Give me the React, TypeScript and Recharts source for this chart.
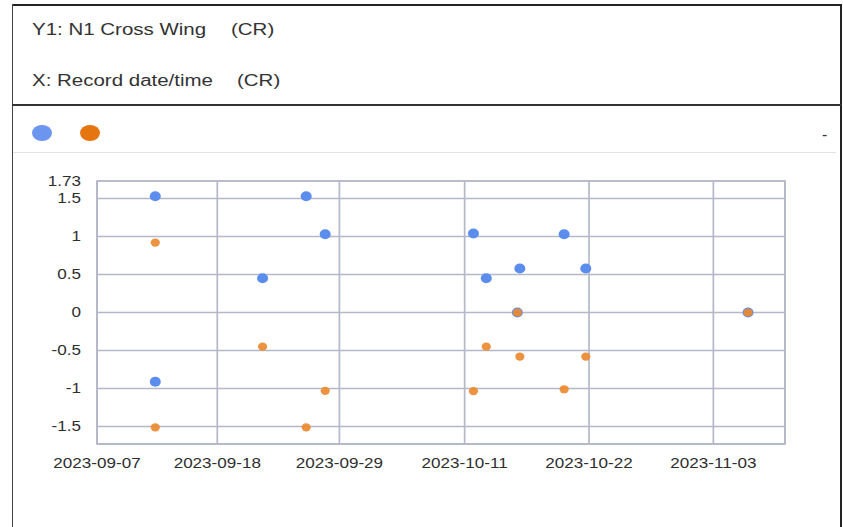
import React from "react";
import {CartesianGrid, ReferenceArea, Scatter, ScatterChart, XAxis, YAxis} from "recharts";

// header / axis captions
const yCaption = "Y1: N1 Cross Wing"
const xCaption = "X: Record date/time"
const unitCaption = "(CR)"

// x axis: domain ends and tick positions (labels show the date part)
const xDomain = ["2023-09-07T00:00", "2023-11-09T15:00"]
const xTickTimes = [
  "2023-09-07T00:00", "2023-09-18T03:00", "2023-09-29T10:00",
  "2023-10-11T00:00", "2023-10-22T12:00", "2023-11-03T00:00"
]

// y axis
const yDomain = [-1.73, 1.73]
const yTicks = [-1.5, -1, -0.5, 0, 0.5, 1, 1.5, 1.73]

// series
const seriesNames = ["Series A", "Series B"]
const seriesColors = ["#5b8def", "#ec8a2f"]
const legendColors = ["#6b95ef", "#e5760f"]

const blueTimes = [
  "2023-09-12T09:20", "2023-09-12T09:20", "2023-09-22T07:30", "2023-09-26T08:20",
  "2023-09-28T02:30", "2023-10-11T19:30", "2023-10-13T00:00", "2023-10-15T21:00",
  "2023-10-16T02:30", "2023-10-20T04:50", "2023-10-22T04:50", "2023-11-06T05:00"
]
const blueValues = [1.53, -0.91, 0.45, 1.53, 1.03, 1.04, 0.45, 0, 0.58, 1.03, 0.58, 0]

const orangeTimes = [
  "2023-09-12T09:20", "2023-09-12T09:20", "2023-09-22T07:30", "2023-09-26T08:20",
  "2023-09-28T02:30", "2023-10-11T19:30", "2023-10-13T00:00", "2023-10-15T21:00",
  "2023-10-16T02:30", "2023-10-20T04:50", "2023-10-22T04:50", "2023-11-06T05:00"
]
const orangeValues = [0.92, -1.51, -0.45, -1.51, -1.03, -1.035, -0.45, 0, -0.58, -1.01, -0.58, 0]

const FONT = '"Liberation Sans", Arial, sans-serif'
const GRID = '#b5b8c8'
const STRETCH = 1.22

function toTime(s: string) {
  return new Date(s).getTime()
}

function formatDate(t: number) {
  const d = new Date(t)
  const mm = String(d.getMonth() + 1).padStart(2, '0')
  const dd = String(d.getDate()).padStart(2, '0')
  return `${d.getFullYear()}-${mm}-${dd}`
}

const blueData = blueTimes.map((t, i) => ({t: toTime(t), v: blueValues[i]}))
const orangeData = orangeTimes.map((t, i) => ({t: toTime(t), v: orangeValues[i]}))

function XTick(props: any) {
  const {x, y, payload} = props
  return (
    <g transform={`translate(${x},${y}) scale(${STRETCH},1)`}>
      <text x={0} y={0} dy="0.71em" textAnchor="middle" fill="#2e2e2e" fontSize={14} fontFamily={FONT}>
        {formatDate(payload.value)}
      </text>
    </g>
  )
}

function YTick(props: any) {
  const {x, y, payload} = props
  return (
    <g transform={`translate(${x},${y}) scale(${STRETCH},1)`}>
      <text x={0} y={0} dy="0.355em" textAnchor="end" fill="#2e2e2e" fontSize={14} fontFamily={FONT}>
        {String(payload.value)}
      </text>
    </g>
  )
}

function Caption({text, left, top}: { text: string, left: number, top: number }) {
  return (
    <span style={{
      position: 'absolute', left, top, fontFamily: FONT, fontSize: 16, lineHeight: '18px',
      color: '#333', whiteSpace: 'nowrap', transform: `scaleX(1.28)`, transformOrigin: 'left top'
    }}>{text}</span>
  )
}

export default function App() {
  return (
    <div style={{
      position: 'absolute', left: 0, top: 0, width: 843, height: 527,
      background: '#fff', overflow: 'hidden'
    }}>
      {/* frame */}
      <div style={{position: 'absolute', left: 12, top: 4, width: 830, height: 1.5, background: '#222'}}/>
      <div style={{position: 'absolute', left: 12, top: 4, width: 1.3, height: 523, background: '#444'}}/>
      <div style={{position: 'absolute', left: 840, top: 4, width: 2, height: 523, background: '#222'}}/>
      <div style={{position: 'absolute', left: 12, top: 104, width: 830, height: 1.8, background: '#333'}}/>
      <div style={{position: 'absolute', left: 13, top: 152, width: 823, height: 1.3, background: '#e2e2e2'}}/>

      {/* captions */}
      <Caption text={yCaption} left={32} top={21}/>
      <Caption text={unitCaption} left={231} top={21}/>
      <Caption text={xCaption} left={32} top={72}/>
      <Caption text={unitCaption} left={237} top={72}/>

      {/* legend */}
      {seriesNames.map((name, i) => (
        <div key={name} title={name} style={{
          position: 'absolute', left: 32 + i * 48, top: 125, width: 20, height: 16,
          borderRadius: '50%', background: legendColors[i]
        }}/>
      ))}
      <span style={{
        position: 'absolute', left: 822, top: 127, fontFamily: FONT, fontSize: 16,
        lineHeight: '16px', color: '#333'
      }}>-</span>

      <div style={{position: 'absolute', left: 0, top: 160}}>
        <ScatterChart width={843} height={360} margin={{top: 21, right: 58, bottom: 46, left: 0}}>
          <CartesianGrid stroke={GRID} strokeWidth={1.7}/>
          <XAxis
            dataKey="t"
            type="number"
            domain={[toTime(xDomain[0]), toTime(xDomain[1])]}
            ticks={xTickTimes.map(toTime)}
            height={30}
            tickLine={false}
            tickSize={0}
            tickMargin={14}
            axisLine={{stroke: GRID, strokeWidth: 1.7}}
            tick={<XTick/>}
            interval={0}
          />
          <YAxis
            dataKey="v"
            type="number"
            domain={yDomain}
            ticks={yTicks}
            width={97}
            tickLine={false}
            tickSize={0}
            tickMargin={16}
            axisLine={{stroke: GRID, strokeWidth: 1.7}}
            tick={<YTick/>}
            interval={0}
          />
          <ReferenceArea
            x1={toTime(xDomain[0])}
            x2={toTime(xDomain[1])}
            y1={yDomain[0]}
            y2={yDomain[1]}
            fill="none"
            stroke={GRID}
            strokeWidth={1.7}
          />
          <Scatter
            name={seriesNames[0]}
            data={blueData}
            isAnimationActive={false}
            shape={(p: any) => <ellipse cx={p.cx} cy={p.cy} rx={5.5} ry={5} fill={seriesColors[0]}/>}
          />
          <Scatter
            name={seriesNames[1]}
            data={orangeData}
            isAnimationActive={false}
            shape={(p: any) => <ellipse cx={p.cx} cy={p.cy} rx={4.6} ry={4.1} fill={seriesColors[1]} fillOpacity={0.92}/>}
          />
        </ScatterChart>
      </div>
    </div>
  )
}
